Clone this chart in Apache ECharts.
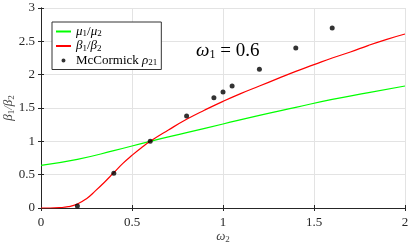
<!DOCTYPE html>
<html><head><meta charset="utf-8">
<script src="https://cdn.jsdelivr.net/npm/echarts@6/dist/echarts.min.js"></script>
<style>html,body{margin:0;padding:0;background:#fff}#c{width:409px;height:247px}</style>
</head><body><div id="c"></div>
<script>
// omega_2 grid and curves
const redX = [0,0.05,0.1,0.15,0.2,0.25,0.3,0.35,0.4,0.45,0.5,0.55,0.6,0.7,0.8,0.9,1.0,1.1,1.2,1.3,1.4,1.5,1.6,1.7,1.8,1.9,2.0];
const redY = [0,0,0.005,0.02,0.06,0.14,0.26,0.39,0.53,0.67,0.79,0.9,1.0,1.17,1.33,1.47,1.6,1.72,1.83,1.94,2.05,2.15,2.25,2.34,2.44,2.53,2.61];
const greenX = [0,0.2,0.4,0.6,0.8,1.0,1.2,1.4,1.6,1.8,2.0];
const greenY = [0.64,0.73,0.86,1.0,1.13,1.26,1.39,1.51,1.63,1.73,1.83];
const dotX = [0.2,0.4,0.6,0.8,0.95,1.0,1.05,1.2,1.4,1.6];
const dotY = [0.03,0.52,1.0,1.38,1.655,1.74,1.83,2.08,2.40,2.70];
const xTicks = [0,0.5,1,1.5,2];
const yTicks = [0,0.5,1,1.5,2,2.5,3];

const zip = (a,b)=>a.map((v,i)=>[v,b[i]]);
const serif = 'Liberation Serif';
const axCol = '#262626';
const chart = echarts.init(document.getElementById('c'), null, {renderer:'canvas'});
const baseAxis = {
  axisLine:{show:true,lineStyle:{color:axCol,width:1}},
  axisTick:{show:true,inside:true,length:3,lineStyle:{color:axCol}},
  splitLine:{show:false},
  axisLabel:{show:false}
};
const tickRich = {a:{fontFamily:serif,fontSize:13,fontWeight:'normal',color:'#262626'}};
chart.setOption({
  animation:false,
  textStyle:{fontFamily:serif},
  grid:{left:41,right:4,top:8,bottom:39,containLabel:false,outerBoundsMode:'none'},
  title:{
    text:'{w|ω}{s|1}{e| = 0.6}',
    left:191, top:36,
    textStyle:{fontWeight:'normal',fontFamily:serif,rich:{
      w:{fontFamily:serif,fontStyle:'italic',fontSize:19,color:'#000'},
      s:{fontFamily:serif,fontSize:12,color:'#000',verticalAlign:'bottom',padding:[8,0,0,0]},
      e:{fontFamily:serif,fontSize:19,color:'#000'}
    }}
  },
  legend:{
    orient:'vertical', left:52, top:22,
    padding:[3,4,2,4], itemGap:1,
    itemWidth:15, itemHeight:12,
    borderColor:'#333', borderWidth:1, backgroundColor:'#fff',
    data:[
      {name:'mu',icon:'path://M0,5L15,5L15,7L0,7Z',itemStyle:{color:'#00ff00',borderWidth:0}},
      {name:'beta',icon:'path://M0,5L15,5L15,7L0,7Z',itemStyle:{color:'#ff0000',borderWidth:0}},
      {name:'mc',icon:'path://M5.5,6a2,2 0 1,0 4,0a2,2 0 1,0 -4,0Z M0,0L0.01,0 M15,12L15.01,12',itemStyle:{color:'#000'}}
    ],
    formatter:function(n){
      if(n==='mu') return '{i|μ}{s|1}{t|/}{i|μ}{s|2}';
      if(n==='beta') return '{i|β}{s|1}{t|/}{i|β}{s|2}';
      return '{t|McCormick }{i|ρ}{s|21}';
    },
    textStyle:{fontFamily:serif,rich:{
      i:{fontFamily:serif,fontStyle:'italic',fontSize:13,color:'#000'},
      t:{fontFamily:serif,fontSize:13,color:'#000'},
      s:{fontFamily:serif,fontSize:9,color:'#000',verticalAlign:'bottom',padding:[5,0,0,0]}
    }}
  },
  xAxis:[
    Object.assign({}, baseAxis, {
      type:'value', min:0, max:2, interval:0.5, position:'bottom',
      splitLine:{show:true,lineStyle:{color:'#e3e3e3',width:1}},
      axisLabel:{show:true,fontFamily:serif,fontSize:13,color:'#262626',margin:8,
        formatter:v=>'{a|'+v+'}', rich:tickRich},
      name:'{w|ω}{s|2}', nameLocation:'middle', nameGap:22, nameMoveOverlap:false,
      nameTextStyle:{fontFamily:serif,rich:{
        w:{fontFamily:serif,fontStyle:'italic',fontSize:13,color:'#444'},
        s:{fontFamily:serif,fontSize:9,color:'#444',verticalAlign:'bottom',padding:[5,0,0,0]}
      }}
    }),
    Object.assign({}, baseAxis, {type:'value',min:0,max:2,interval:0.5,position:'top'})
  ],
  yAxis:[
    Object.assign({}, baseAxis, {
      type:'value', min:0, max:3, interval:0.5, position:'left',
      splitLine:{show:true,lineStyle:{color:'#e3e3e3',width:1}},
      axisLabel:{show:true,fontFamily:serif,fontSize:13,color:'#262626',margin:6,
        formatter:v=>'{a|'+v+'}', rich:tickRich},
      name:'{w|β}{s|1}{t|/}{w|β}{s|2}', nameLocation:'middle', nameGap:25, nameRotate:90, nameMoveOverlap:false,
      nameTextStyle:{fontFamily:serif,rich:{
        w:{fontFamily:serif,fontStyle:'italic',fontSize:13,color:'#444'},
        t:{fontFamily:serif,fontStyle:'italic',fontSize:13,color:'#444'},
        s:{fontFamily:serif,fontSize:9,color:'#444',verticalAlign:'bottom',padding:[5,0,0,0]}
      }}
    }),
    Object.assign({}, baseAxis, {type:'value',min:0,max:3,interval:0.5,position:'right'})
  ],
  series:[
    {name:'mu',type:'line',data:zip(greenX,greenY),smooth:true,showSymbol:false,
      lineStyle:{color:'#00ff00',width:1.2},itemStyle:{color:'#00ff00'}},
    {name:'beta',type:'line',data:zip(redX,redY),smooth:true,showSymbol:false,
      lineStyle:{color:'#ff0000',width:1.2},itemStyle:{color:'#ff0000'}},
    {name:'mc',type:'scatter',data:zip(dotX,dotY),symbolSize:5,
      itemStyle:{color:'#000'},z:5}
  ]
});
</script></body></html>
